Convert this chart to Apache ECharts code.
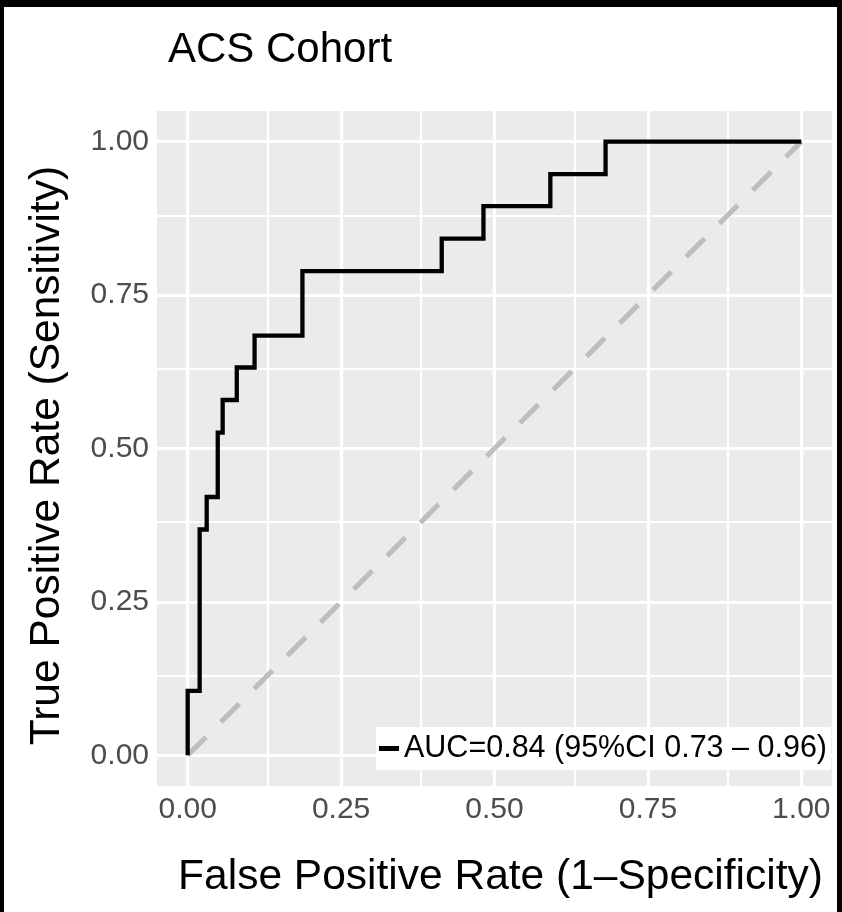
<!DOCTYPE html>
<html>
<head>
<meta charset="utf-8">
<script src="https://cdn.jsdelivr.net/npm/echarts@6/dist/echarts.min.js"></script>
<style>
html,body{margin:0;padding:0;background:#000;width:842px;height:912px;overflow:hidden;}
#paper{position:absolute;left:4px;top:7px;width:833px;height:905px;background:#fff;}
#chart{position:absolute;left:0;top:0;width:842px;height:912px;}
</style>
</head>
<body>
<div id="paper"></div>
<div id="chart"></div>
<script>
// ROC curve corner points (FPR where the curve steps up, TPR reached)
const fpr = [0, 0, 0.0195, 0.031, 0.049, 0.057, 0.080, 0.109, 0.187, 0.414, 0.482, 0.591, 0.681, 1.0];
const tpr = [0, 0.105, 0.368, 0.421, 0.526, 0.579, 0.632, 0.684, 0.789, 0.842, 0.895, 0.947, 1.0, 1.0];
// chance diagonal
const diagX = [0, 1];
const diagY = [0, 1];
// ticks and grid lines
const majorTicks = [0, 0.25, 0.5, 0.75, 1];
const minorTicks = [0.125, 0.375, 0.625, 0.875];
const titleText = 'ACS Cohort';
const xTitle = 'False Positive Rate (1\u2013Specificity)';
const yTitle = 'True Positive Rate (Sensitivity)';
const seriesName = 'AUC=0.84 (95%CI 0.73 \u2013 0.96)';

const FONT = '"Liberation Sans", Arial, Helvetica, sans-serif';
const chart = echarts.init(document.getElementById('chart'), null, {renderer: 'canvas'});

const gridLines = [];
majorTicks.forEach(v => {
  gridLines.push({xAxis: v, lineStyle: {width: 3.2}});
  gridLines.push({yAxis: v, lineStyle: {width: 3.2}});
});
minorTicks.forEach(v => {
  gridLines.push({xAxis: v, lineStyle: {width: 2.2}});
  gridLines.push({yAxis: v, lineStyle: {width: 2.2}});
});

const axisCommon = {
  type: 'value',
  min: -0.05,
  max: 1.05,
  axisLine: {show: false},
  splitLine: {show: false},
  axisTick: {show: true, length: 4, lineStyle: {color: '#333333', width: 3}, customValues: majorTicks},
  axisLabel: {
    color: '#4D4D4D', fontSize: 30, fontFamily: FONT,
    customValues: majorTicks,
    formatter: v => v.toFixed(2)
  },
  nameLocation: 'middle',
  nameTextStyle: {color: '#000', fontSize: 42.5, fontFamily: FONT}
};

chart.setOption({
  animation: false,
  title: {
    text: titleText,
    left: 163, top: 24,
    textStyle: {color: '#000', fontSize: 42, fontWeight: 'normal', fontFamily: FONT}
  },
  grid: {
    left: 157, right: 10, top: 111, bottom: 126,
    show: true, backgroundColor: '#EBEBEB', borderWidth: 0
  },
  xAxis: Object.assign({}, axisCommon, {
    name: xTitle, nameGap: 70,
    nameTextStyle: Object.assign({}, axisCommon.nameTextStyle, {padding: [0, 0, 0, 12]}),
    axisLabel: Object.assign({}, axisCommon.axisLabel, {margin: 9})
  }),
  yAxis: Object.assign({}, axisCommon, {
    name: yTitle, nameGap: 88, nameRotate: 90,
    nameTextStyle: Object.assign({}, axisCommon.nameTextStyle, {padding: [0, 14, 0, 0]}),
    axisLabel: Object.assign({}, axisCommon.axisLabel, {margin: 8})
  }),
  legend: {
    z: 20,
    data: [{name: seriesName, icon: 'rect'}],
    right: 11, bottom: 142,
    backgroundColor: '#ffffff',
    padding: [6, 4, 6, 3],
    itemWidth: 20, itemHeight: 5,
    textStyle: {color: '#000', fontSize: 30.5, fontFamily: FONT}
  },
  series: [
    {
      type: 'line', name: 'grid', silent: true, z: 1,
      data: [], symbol: 'none',
      markLine: {
        z: 1,
        silent: true, symbol: 'none', animation: false,
        label: {show: false},
        lineStyle: {color: '#ffffff', type: 'solid'},
        data: gridLines
      }
    },
    {
      type: 'line', name: 'chance', z: 9,
      data: diagX.map((x, i) => [x, diagY[i]]),
      symbol: 'none',
      lineStyle: {color: '#BEBEBE', width: 5, type: [26, 21], cap: 'butt'}
    },
    {
      type: 'line', name: seriesName, z: 10,
      data: fpr.map((x, i) => [x, tpr[i]]),
      step: 'end',
      symbol: 'none',
      itemStyle: {color: '#000'},
      lineStyle: {color: '#000', width: 4.3, join: 'miter'}
    }
  ]
});
</script>
</body>
</html>
